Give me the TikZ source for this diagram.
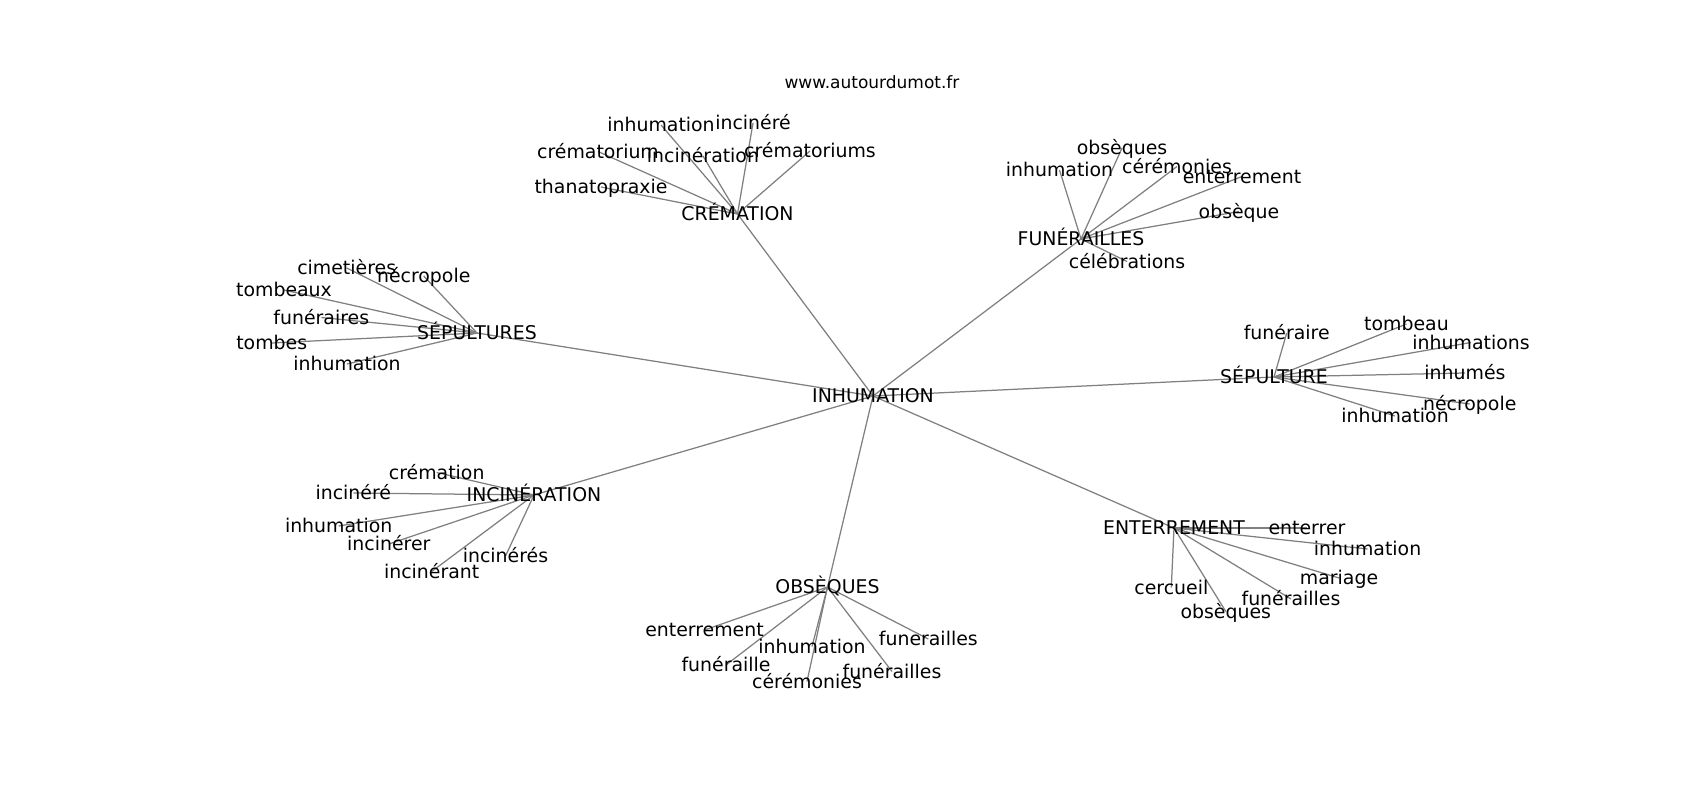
\documentclass[tikz,border=0pt]{standalone}
\usepackage{fontspec}
\setmainfont{DejaVu Sans}
\usetikzlibrary{backgrounds}

\begin{document}
\begin{tikzpicture}[x=1pt,y=-1pt]

		\tikzset{word/.style = {inner sep=0pt, text height=13.8pt, text depth=0pt, font=\fontsize{18.9}{22}\selectfont}}
		\tikzset{sitename/.style = {inner sep=0pt, text height=12.4pt, text depth=0pt, font=\fontsize{17}{20}\selectfont}}
		\tikzset{edge/.style = {draw=gray, line width=1.25pt}}
		\useasboundingbox (0,0) rectangle (1700,800);
		\node[sitename] (site) at (872,82) {www.autourdumot.fr};
		% vertices
		\node[word] (ins) at (873,396) {INHUMATION};
		\node[word] (crem) at (737.5,214) {CRÉMATION};
		\node[word] (fun) at (1081,239) {FUNÉRAILLES};
		\node[word] (sepS) at (477,333) {SÉPULTURES};
		\node[word] (sep) at (1274,377) {SÉPULTURE};
		\node[word] (inc) at (534,495) {INCINÉRATION};
		\node[word] (obs) at (827.5,587) {OBSÈQUES};
		\node[word] (ent) at (1174,528) {ENTERREMENT};
		% crémation
		\node[word] (crem1) at (661,125) {inhumation};
		\node[word] (crem2) at (753,123) {incinéré};
		\node[word] (crem3) at (598,151.5) {crématorium};
		\node[word] (crem4) at (703,156) {incinération};
		\node[word] (crem5) at (810,151) {crématoriums};
		\node[word] (crem6) at (601,187) {thanatopraxie};
		% funérailles
		\node[word] (fun1) at (1122,148) {obsèques};
		\node[word] (fun2) at (1059.5,170) {inhumation};
		\node[word] (fun3) at (1177,166.5) {cérémonies};
		\node[word] (fun4) at (1242,176.5) {enterrement};
		\node[word] (fun5) at (1239,211.5) {obsèque};
		\node[word] (fun6) at (1127,261.5) {célébrations};
		% sépultures
		\node[word] (sepS1) at (346.7,268) {cimetières};
		\node[word] (sepS2) at (423.7,276) {nécropole};
		\node[word] (sepS3) at (284,290) {tombeaux};
		\node[word] (sepS4) at (321.3,317.5) {funéraires};
		\node[word] (sepS5) at (271.7,343) {tombes};
		\node[word] (sepS6) at (347,364) {inhumation};
		% sépulture
		\node[word] (sep1) at (1286.7,333) {funéraire};
		\node[word] (sep2) at (1406.5,324) {tombeau};
		\node[word] (sep3) at (1471,342.5) {inhumations};
		\node[word] (sep4) at (1465,373) {inhumés};
		\node[word] (sep5) at (1469.7,404) {nécropole};
		\node[word] (sep6) at (1395,416) {inhumation};
		% incinération
		\node[word] (inc1) at (436.7,472.5) {crémation};
		\node[word] (inc2) at (353.3,493) {incinéré};
		\node[word] (inc3) at (338.7,526) {inhumation};
		\node[word] (inc4) at (388.8,544) {incinérer};
		\node[word] (inc5) at (505.5,556) {incinérés};
		\node[word] (inc6) at (431.7,571.5) {incinérant};
		% obsèques
		\node[word] (obs1) at (704.5,630) {enterrement};
		\node[word] (obs2) at (928.3,639) {funerailles};
		\node[word] (obs3) at (812,646.5) {inhumation};
		\node[word] (obs4) at (726,665) {funéraille};
		\node[word] (obs5) at (892,671.5) {funérailles};
		\node[word] (obs6) at (807,681.5) {cérémonies};
		% enterrement
		\node[word] (ent1) at (1307,528) {enterrer};
		\node[word] (ent2) at (1367.5,549) {inhumation};
		\node[word] (ent3) at (1339,578) {mariage};
		\node[word] (ent4) at (1171.3,587.5) {cercueil};
		\node[word] (ent5) at (1291,599) {funérailles};
		\node[word] (ent6) at (1225.8,611.5) {obsèques};
		%edges
		\begin{scope}[on background layer]
		\draw[edge] (ins.center) -- (crem.center);
		\draw[edge] (ins.center) -- (fun.center);
		\draw[edge] (ins.center) -- (sepS.center);
		\draw[edge] (ins.center) -- (sep.center);
		\draw[edge] (ins.center) -- (inc.center);
		\draw[edge] (ins.center) -- (obs.center);
		\draw[edge] (ins.center) -- (ent.center);
		\draw[edge] (crem.center) -- (crem1.center);
		\draw[edge] (crem.center) -- (crem2.center);
		\draw[edge] (crem.center) -- (crem3.center);
		\draw[edge] (crem.center) -- (crem4.center);
		\draw[edge] (crem.center) -- (crem5.center);
		\draw[edge] (crem.center) -- (crem6.center);
		\draw[edge] (fun.center) -- (fun1.center);
		\draw[edge] (fun.center) -- (fun2.center);
		\draw[edge] (fun.center) -- (fun3.center);
		\draw[edge] (fun.center) -- (fun4.center);
		\draw[edge] (fun.center) -- (fun5.center);
		\draw[edge] (fun.center) -- (fun6.center);
		\draw[edge] (sepS.center) -- (sepS1.center);
		\draw[edge] (sepS.center) -- (sepS2.center);
		\draw[edge] (sepS.center) -- (sepS3.center);
		\draw[edge] (sepS.center) -- (sepS4.center);
		\draw[edge] (sepS.center) -- (sepS5.center);
		\draw[edge] (sepS.center) -- (sepS6.center);
		\draw[edge] (sep.center) -- (sep1.center);
		\draw[edge] (sep.center) -- (sep2.center);
		\draw[edge] (sep.center) -- (sep3.center);
		\draw[edge] (sep.center) -- (sep4.center);
		\draw[edge] (sep.center) -- (sep5.center);
		\draw[edge] (sep.center) -- (sep6.center);
		\draw[edge] (inc.center) -- (inc1.center);
		\draw[edge] (inc.center) -- (inc2.center);
		\draw[edge] (inc.center) -- (inc3.center);
		\draw[edge] (inc.center) -- (inc4.center);
		\draw[edge] (inc.center) -- (inc5.center);
		\draw[edge] (inc.center) -- (inc6.center);
		\draw[edge] (obs.center) -- (obs1.center);
		\draw[edge] (obs.center) -- (obs2.center);
		\draw[edge] (obs.center) -- (obs3.center);
		\draw[edge] (obs.center) -- (obs4.center);
		\draw[edge] (obs.center) -- (obs5.center);
		\draw[edge] (obs.center) -- (obs6.center);
		\draw[edge] (ent.center) -- (ent1.center);
		\draw[edge] (ent.center) -- (ent2.center);
		\draw[edge] (ent.center) -- (ent3.center);
		\draw[edge] (ent.center) -- (ent4.center);
		\draw[edge] (ent.center) -- (ent5.center);
		\draw[edge] (ent.center) -- (ent6.center);
		\end{scope}
		\end{tikzpicture}
\end{document}
